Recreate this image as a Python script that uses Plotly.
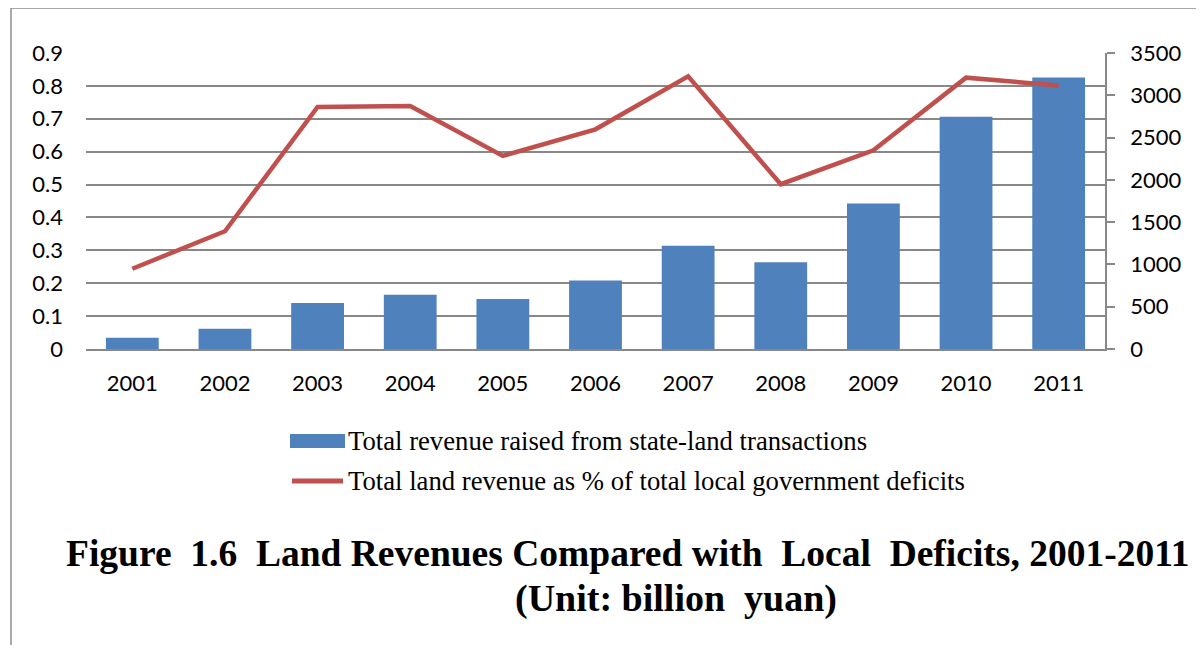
import plotly.graph_objects as go

# ---- data ----
years = ["2001", "2002", "2003", "2004", "2005", "2006", "2007", "2008", "2009", "2010", "2011"]
land_revenue = [133, 240, 543, 641, 590, 811, 1220, 1027, 1720, 2747, 3211]  # billion yuan
land_rev_pct_deficit = [0.244, 0.358, 0.736, 0.739, 0.587, 0.668, 0.829, 0.501, 0.604, 0.825, 0.801]
bar_name = "Total revenue raised from state-land transactions"
line_name = "Total land revenue as % of total local government deficits"

# ---- layout geometry (page pixels; the page body adds an 8px offset) ----
W, H = 1204, 645
OFF = 8
L, R, T, B = 86, 1105, 53, 349  # plot area edges in page pixels


def px(x):
    return (x - L) / (R - L)


def py(y):
    return (B - y) / (B - T)


BLUE = "#4F81BD"
RED = "#C0504D"
GRID = "#888888"
TICKFONT = dict(family="Lato, Carlito, sans-serif", size=22, color="#000000")
SERIF = "Liberation Serif, Times New Roman, serif"

fig = go.Figure()
fig.add_trace(go.Bar(x=years, y=land_revenue, name=bar_name, marker=dict(color=BLUE, line=dict(width=0)),
                     yaxis="y", showlegend=False))
fig.add_trace(go.Scatter(x=years, y=land_rev_pct_deficit, name=line_name, mode="lines",
                         line=dict(color=RED, width=4.5), yaxis="y2", showlegend=False))

fig.update_layout(
    width=W, height=H,
    margin=dict(l=L - OFF, r=W - (R - OFF), t=T - OFF, b=H - (B - OFF), pad=0),
    paper_bgcolor="white", plot_bgcolor="white",
    bargap=0.43,
    xaxis=dict(type="category", showgrid=False, showline=True, linecolor=GRID, linewidth=2,
               ticks="", tickfont=TICKFONT, ticklabelstandoff=14),
    yaxis=dict(side="right", range=[0, 3500], dtick=500, showgrid=False, zeroline=False,
               showline=True, linecolor=GRID, linewidth=1.5, ticks="outside", ticklen=8,
               tickcolor=GRID, tickwidth=1.5, tickfont=TICKFONT, ticklabelstandoff=11),
    yaxis2=dict(side="left", overlaying="y", range=[0, 0.9], dtick=0.1, showgrid=True,
                gridcolor=GRID, gridwidth=1.5, zeroline=False, showline=False, ticks="",
                tickfont=TICKFONT, ticklabelstandoff=22),
)

shapes = [
    # page frame
    dict(type="line", xref="paper", yref="paper", x0=px(11), x1=px(W + 20), y0=py(8), y1=py(8),
         line=dict(color="#8c8c8c", width=1.5)),
    dict(type="line", xref="paper", yref="paper", x0=px(11), x1=px(11), y0=py(8), y1=py(H + 20),
         line=dict(color="#8c8c8c", width=1.5)),
    # legend symbols
    dict(type="rect", xref="paper", yref="paper", x0=px(290), x1=px(345), y0=py(448), y1=py(434),
         fillcolor=BLUE, line=dict(width=0)),
    dict(type="line", xref="paper", yref="paper", x0=px(292), x1=px(343), y0=py(481), y1=py(481),
         line=dict(color=RED, width=5)),
]

annotations = [
    dict(text=bar_name, x=px(346), y=py(441), xref="paper", yref="paper", xanchor="left",
         yanchor="middle", showarrow=False, font=dict(family=SERIF, size=26.7, color="black")),
    dict(text=line_name, x=px(346), y=py(481), xref="paper", yref="paper", xanchor="left",
         yanchor="middle", showarrow=False, font=dict(family=SERIF, size=26.7, color="black")),
    dict(text="<b>Figure\u00a0 1.6\u00a0 Land Revenues Compared with\u00a0 Local\u00a0 Deficits, 2001-2011</b>",
         x=px(628), y=py(553), xref="paper", yref="paper", xanchor="center", yanchor="middle",
         showarrow=False, font=dict(family=SERIF, size=37.5, color="black")),
    dict(text="<b>(Unit: billion\u00a0 yuan)</b>",
         x=px(676), y=py(598), xref="paper", yref="paper", xanchor="center", yanchor="middle",
         showarrow=False, font=dict(family=SERIF, size=38, color="black")),
]

fig.update_layout(shapes=shapes, annotations=annotations)
fig.write_html("out.html")
